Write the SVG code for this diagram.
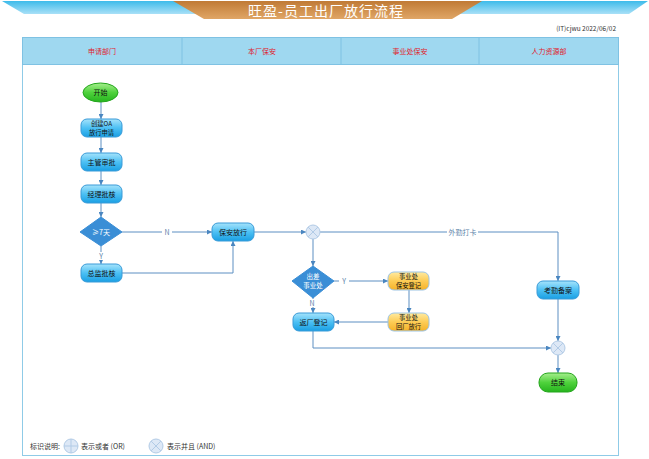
<svg xmlns="http://www.w3.org/2000/svg" width="649" height="459" viewBox="0 0 649 459">
<defs>
<linearGradient id="gBand" x1="0" y1="0" x2="0" y2="1"><stop offset="0" stop-color="#3dbbea"/><stop offset="1" stop-color="#a9e0f7"/></linearGradient>
<linearGradient id="gTitle" x1="0" y1="0" x2="0" y2="1"><stop offset="0" stop-color="#c07a35"/><stop offset="1" stop-color="#e0a666"/></linearGradient>
<linearGradient id="gBlue" x1="0" y1="0" x2="0" y2="1"><stop offset="0" stop-color="#a6e3fb"/><stop offset="0.5" stop-color="#4cc0f4"/><stop offset="1" stop-color="#1a9fe3"/></linearGradient>
<linearGradient id="gOrange" x1="0" y1="0" x2="0" y2="1"><stop offset="0" stop-color="#ffeaa0"/><stop offset="0.5" stop-color="#fdcc55"/><stop offset="1" stop-color="#f5b22a"/></linearGradient>
<linearGradient id="gGreen" x1="0" y1="0" x2="0" y2="1"><stop offset="0" stop-color="#a6ee8e"/><stop offset="0.5" stop-color="#4fd23c"/><stop offset="1" stop-color="#26b41e"/></linearGradient>
<marker id="arr" viewBox="0 0 6 6" refX="6" refY="3" markerWidth="5" markerHeight="5" orient="auto" markerUnits="userSpaceOnUse"><path d="M0,0 L6,3 L0,6 z" fill="#4a86c0"/></marker>
<g id="andSym"><circle r="7" fill="#dde8f6" stroke="#b2cbe6" stroke-width="1"/><path d="M-4.9,-4.9 L4.9,4.9 M-4.9,4.9 L4.9,-4.9" stroke="#b2cbe6" stroke-width="1"/></g>
<g id="orSym"><circle r="7" fill="#dde8f6" stroke="#b2cbe6" stroke-width="1"/><path d="M-7,0 L7,0 M0,-7 L0,7" stroke="#b2cbe6" stroke-width="1"/></g>
</defs>
<style>
text{font-family:"Noto Sans CJK SC","Liberation Sans",sans-serif;}
.t{font-size:7px;fill:#111;text-anchor:middle;}
.t2{font-size:6.3px;fill:#111;text-anchor:middle;}
.tw{font-size:7px;fill:#fff;text-anchor:middle;}
.tw2{font-size:6.5px;fill:#fff;text-anchor:middle;}
.lane{font-size:7px;fill:#e0212b;text-anchor:middle;}
.lbl{font-size:7px;fill:#5a7fa8;text-anchor:middle;}
.blue{fill:url(#gBlue);stroke:#3a9bd8;stroke-width:1;}
.orange{fill:url(#gOrange);stroke:#9cc3e3;stroke-width:1;}
.green{fill:url(#gGreen);stroke:#25a61d;stroke-width:1;}
.dia{fill:#3a8ed6;stroke:#3a8ed6;}
.c{fill:none;stroke:#5c8fc2;stroke-width:1;}
.ca{fill:none;stroke:#5c8fc2;stroke-width:1;marker-end:url(#arr);}
</style>
<rect width="649" height="459" fill="#fff"/>
<!-- banner -->
<polygon points="2,1 648,1 629,14 24,14" fill="url(#gBand)"/>
<polygon points="173,1 482,1 452,19 204,19" fill="url(#gTitle)"/>
<text x="326" y="16" font-size="14" fill="#fff" text-anchor="middle" letter-spacing="1">旺盈-员工出厂放行流程</text>
<text x="616" y="31" font-size="6.5" fill="#333" text-anchor="end" font-family="Liberation Sans,sans-serif">(IT)cjwu  2022/06/02</text>
<!-- frame & lanes -->
<g id="lanes">
<rect x="22.5" y="37.5" width="596" height="418" fill="#fff" stroke="#8fcbe7" stroke-width="1"/>
<rect x="22.5" y="37.5" width="596" height="27" fill="#9fd8f0" stroke="#7fc2e3" stroke-width="1"/>
<path d="M182,38 V64 M341,38 V64 M479,38 V64" stroke="#7fc2e3" stroke-width="1"/>
<text class="lane" x="102" y="54">申请部门</text>
<text class="lane" x="262" y="54">本厂保安</text>
<text class="lane" x="410" y="54">事业处保安</text>
<text class="lane" x="549" y="54">人力资源部</text>
</g>
<!-- connectors -->
<g id="connectors">
<path class="ca" d="M101,102 V119"/>
<path class="ca" d="M101,137 V153"/>
<path class="ca" d="M101,171 V185"/>
<path class="ca" d="M101,203 V217"/>
<path class="ca" d="M122,232 H212"/>
<rect x="162" y="228" width="10" height="8" fill="#fff"/>
<text class="lbl" x="167" y="234.5">N</text>
<path class="ca" d="M101,246 V264"/>
<rect x="96" y="252" width="10" height="8" fill="#fff"/>
<text class="lbl" x="101" y="258.5">Y</text>
<path class="ca" d="M122,273 H233 V241"/>
<path class="ca" d="M254,232 H306"/>
<path class="ca" d="M320,232 H558 V281"/>
<rect x="447" y="228" width="31" height="8" fill="#fff"/>
<text class="lbl" x="462.5" y="234.5">外勤打卡</text>
<path class="ca" d="M313,239 V266"/>
<path class="ca" d="M334,281 H388"/>
<rect x="339" y="277" width="10" height="8" fill="#fff"/>
<text class="lbl" x="344" y="283.5">Y</text>
<path class="ca" d="M313,298 V313"/>
<rect x="307" y="299" width="10" height="8" fill="#fff"/>
<text class="lbl" x="312" y="305.5">N</text>
<path class="ca" d="M409,290 V313"/>
<path class="ca" d="M388,322 H334"/>
<path class="ca" d="M313,331 V348 H551"/>
<path class="ca" d="M558,299 V341"/>
<path class="ca" d="M558,355 V373"/>
</g>
<!-- nodes -->
<g id="start"><ellipse class="green" cx="100.5" cy="92.5" rx="17.5" ry="9.5"/><text class="t" x="100.5" y="95">开始</text></g>
<g id="create"><rect class="blue" x="81" y="119" width="41" height="18" rx="6"/><text class="t2" x="101.5" y="126.2">创建OA</text><text class="t2" x="101.5" y="134.6">放行申请</text></g>
<g id="supervisor"><rect class="blue" x="81" y="153" width="41" height="18" rx="6"/><text class="t" x="101.5" y="164.5">主管审批</text></g>
<g id="manager"><rect class="blue" x="81" y="185" width="41" height="18" rx="6"/><text class="t" x="101.5" y="196.5">经理批核</text></g>
<g id="days"><polygon class="dia" points="101,217 122,232 101,246 80,232"/><text class="tw" x="101" y="234.5">≥7天</text></g>
<g id="director"><rect class="blue" x="81" y="264" width="41" height="18" rx="6"/><text class="t" x="101.5" y="275.5">总监批核</text></g>
<g id="guard"><rect class="blue" x="212" y="223" width="42" height="18" rx="6"/><text class="t" x="233" y="234.5">保安放行</text></g>
<g id="and1"><use href="#andSym" x="313" y="232"/></g>
<g id="trip"><polygon class="dia" points="313,266 334,281 313,298 292,281"/><text class="tw2" x="313" y="278.5">出差</text><text class="tw2" x="313" y="287.5">事业处</text></g>
<g id="buReg"><rect class="orange" x="388" y="272" width="41" height="18" rx="6"/><text class="t2" x="408.5" y="279.2">事业处</text><text class="t2" x="408.5" y="287.6">保安登记</text></g>
<g id="buRelease"><rect class="orange" x="388" y="313" width="41" height="18" rx="6"/><text class="t2" x="408.5" y="320.2">事业处</text><text class="t2" x="408.5" y="328.6">回厂放行</text></g>
<g id="returnReg"><rect class="blue" x="293" y="313" width="41" height="18" rx="6"/><text class="t" x="313.5" y="324.5">返厂登记</text></g>
<g id="attendance"><rect class="blue" x="537" y="281" width="42" height="18" rx="6"/><text class="t" x="558" y="292.5">考勤备案</text></g>
<g id="and2"><use href="#andSym" x="558" y="348"/></g>
<g id="end"><rect class="green" x="539" y="373" width="38" height="19" rx="9"/><text class="t" x="558" y="385">结束</text></g>
<!-- legend -->
<g id="legend">
<text x="30" y="449" font-size="7" fill="#333">标识说明:</text>
<use href="#orSym" x="71" y="446"/>
<text x="81" y="449" font-size="7" fill="#333">表示或者 (OR)</text>
<use href="#andSym" x="156" y="446"/>
<text x="167" y="449" font-size="7" fill="#333">表示并且 (AND)</text>
</g>
</svg>
